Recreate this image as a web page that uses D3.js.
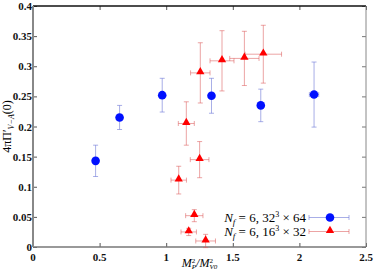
<!DOCTYPE html>
<meta charset="UTF-8">
<head>
<script src="https://cdn.jsdelivr.net/npm/d3@7"></script>
</head>
<style>
body { margin: 0; background: #fff; }
text { font-family: "Liberation Serif", "DejaVu Serif", serif; }
.tick-label { font-size: 11px; font-weight: bold; fill: #111; }
</style>
<body>
<div id="chart"></div>
<script>

// Nf = 6, 32^3 x 64 (blue circles)
var blueX    = [0.47, 0.65, 0.97, 1.34, 1.71, 2.11];
var blueY    = [0.143, 0.215, 0.252, 0.251, 0.235, 0.253];
var blueXErr = [0.01, 0.01, 0.01, 0.01, 0.015, 0.035];
var blueYErr = [0.026, 0.020, 0.028, 0.029, 0.027, 0.054];

// Nf = 6, 16^3 x 32 (red triangles)
var redX    = [1.151, 1.256, 1.419, 1.587, 1.729, 1.251, 1.094, 1.211, 1.169, 1.296];
var redY    = [0.205, 0.289, 0.309, 0.313, 0.320, 0.145, 0.111, 0.052, 0.025, 0.010];
var redXErr = [0.06, 0.073, 0.09, 0.11, 0.137, 0.07, 0.058, 0.065, 0.058, 0.074];
var redYErr = [0.036, 0.05, 0.05, 0.045, 0.048, 0.03, 0.023, 0.01, 0.006, 0.011];

var xTicks = [0, 0.5, 1, 1.5, 2, 2.5];
var yTicks = [0, 0.05, 0.1, 0.15, 0.2, 0.25, 0.3, 0.35, 0.4];

var W = 374, H = 274;
var margin = {top: 6, right: 8, bottom: 27, left: 33},
    width = W - margin.left - margin.right,
    height = H - margin.top - margin.bottom;

var svg = d3.select("#chart").append("svg")
    .attr("width", W).attr("height", H)
  .append("g")
    .attr("transform", "translate(" + margin.left + "," + margin.top + ")");

var x = d3.scaleLinear().domain([0, 2.5]).range([0, width]);
var y = d3.scaleLinear().domain([0, 0.4]).range([height, 0]);

var fmt = function(d) { return d === 0 ? "0" : String(+d.toFixed(2)); };

// axes: ticks point inward
svg.append("g").attr("transform", "translate(0," + height + ")")
  .call(d3.axisTop(x).tickValues(xTicks).tickSize(4).tickFormat(""))
  .call(function(g) { g.select(".domain").remove(); g.selectAll("line").attr("stroke", "#555"); });
svg.append("g")
  .call(d3.axisBottom(x).tickValues(xTicks).tickSize(4).tickFormat(""))
  .call(function(g) { g.select(".domain").remove(); g.selectAll("line").attr("stroke", "#555"); });
svg.append("g")
  .call(d3.axisRight(y).tickValues(yTicks).tickSize(4).tickFormat(""))
  .call(function(g) { g.select(".domain").remove(); g.selectAll("line").attr("stroke", "#555"); });
svg.append("g").attr("transform", "translate(" + width + ",0)")
  .call(d3.axisLeft(y).tickValues(yTicks).tickSize(4).tickFormat(""))
  .call(function(g) { g.select(".domain").remove(); g.selectAll("line").attr("stroke", "#777"); });

// frame
svg.append("line").attr("x1", 0).attr("x2", width).attr("y1", 0).attr("y2", 0)
  .attr("stroke", "#111").attr("stroke-width", 1.4);
svg.append("line").attr("x1", width).attr("x2", width).attr("y1", 0).attr("y2", height)
  .attr("stroke", "#888").attr("stroke-width", 1);
svg.append("line").attr("x1", 0).attr("x2", width).attr("y1", height).attr("y2", height)
  .attr("stroke", "#777").attr("stroke-width", 1.5);
svg.append("line").attr("x1", 0).attr("x2", 0).attr("y1", 0).attr("y2", height)
  .attr("stroke", "#888").attr("stroke-width", 2);

// tick labels
svg.selectAll(".xl").data(xTicks).enter().append("text")
  .attr("class", "tick-label")
  .attr("x", function(d) { return x(d); })
  .attr("y", height + 14)
  .attr("text-anchor", "middle")
  .text(fmt);
svg.selectAll(".yl").data(yTicks).enter().append("text")
  .attr("class", "tick-label")
  .attr("x", -1)
  .attr("y", function(d) { return y(d) + 4; })
  .attr("text-anchor", "end")
  .text(fmt);

// axis titles
var xt = svg.append("text")
  .attr("x", width / 2).attr("y", height + 20)
  .attr("text-anchor", "middle")
  .style("font-size", "12px").style("font-style", "italic");
xt.append("tspan").text("M");
xt.append("tspan").attr("dy", -4).style("font-size", "7px").style("font-style", "normal").text("2");
xt.append("tspan").attr("dx", -3.5).attr("dy", 6).style("font-size", "7px").text("P");
xt.append("tspan").attr("dy", -2).text("/M");
xt.append("tspan").attr("dy", -4).style("font-size", "7px").style("font-style", "normal").text("2");
xt.append("tspan").attr("dx", -3.5).attr("dy", 6).style("font-size", "7px").text("V0");

var yt = svg.append("text")
  .attr("transform", "translate(" + (-22) + "," + (height / 2) + ") rotate(-90)")
  .attr("text-anchor", "middle")
  .style("font-size", "12px");
yt.append("tspan").text("4πΠ′");
yt.append("tspan").attr("dy", 3).style("font-size", "8px").style("font-style", "italic").text("V−A");
yt.append("tspan").attr("dy", -3).text("(0)");

// series
var blue = blueX.map(function(v, i) {
  return {x: v, y: blueY[i], xe: blueXErr[i], ye: blueYErr[i]};
});
var red = redX.map(function(v, i) {
  return {x: v, y: redY[i], xe: redXErr[i], ye: redYErr[i]};
});

function errorBars(data, color, cls) {
  var g = svg.append("g").attr("class", cls)
    .attr("stroke", color).attr("stroke-width", 1).attr("fill", "none");
  data.forEach(function(d) {
    var cx = x(d.x), cy = y(d.y);
    var y0 = y(d.y - d.ye), y1 = y(d.y + d.ye);
    var x0 = x(d.x - d.xe), x1 = x(d.x + d.xe);
    g.append("line").attr("x1", cx).attr("x2", cx).attr("y1", y0).attr("y2", y1);
    g.append("line").attr("x1", cx - 2.5).attr("x2", cx + 2.5).attr("y1", y0).attr("y2", y0);
    g.append("line").attr("x1", cx - 2.5).attr("x2", cx + 2.5).attr("y1", y1).attr("y2", y1);
    g.append("line").attr("x1", x0).attr("x2", x1).attr("y1", cy).attr("y2", cy);
    g.append("line").attr("x1", x0).attr("x2", x0).attr("y1", cy - 2.5).attr("y2", cy + 2.5);
    g.append("line").attr("x1", x1).attr("x2", x1).attr("y1", cy - 2.5).attr("y2", cy + 2.5);
  });
}

errorBars(blue, "rgba(110,120,215,0.6)", "blue-err");
errorBars(red, "rgba(220,90,90,0.55)", "red-err");

svg.selectAll("circle.pt").data(blue).enter().append("circle")
  .attr("class", "pt")
  .attr("cx", function(d) { return x(d.x); })
  .attr("cy", function(d) { return y(d.y); })
  .attr("r", 4.3)
  .attr("fill", "#0010ff");

var tri = d3.symbol().type(d3.symbolTriangle).size(30);
svg.selectAll("path.tri").data(red).enter().append("path")
  .attr("class", "tri")
  .attr("transform", function(d) { return "translate(" + x(d.x) + "," + (y(d.y) - 1) + ")"; })
  .attr("d", tri)
  .attr("fill", "#ff0000");

// legend
var legend = [
  {label: "32", lat: "64", color: "#0010ff", err: "rgba(110,120,215,0.6)", shape: "circle"},
  {label: "16", lat: "32", color: "#ff0000", err: "rgba(220,90,90,0.55)", shape: "tri"}
];
var lg = svg.selectAll(".lg").data(legend).enter().append("g")
  .attr("transform", function(d, i) { return "translate(0," + (217.5 + i * 14 - margin.top) + ")"; });
lg.append("line").attr("x1", 276).attr("x2", 316).attr("y1", 0).attr("y2", 0)
  .attr("stroke", function(d) { return d.err; });
lg.append("line").attr("x1", 276).attr("x2", 276).attr("y1", -2.5).attr("y2", 2.5)
  .attr("stroke", function(d) { return d.err; });
lg.append("line").attr("x1", 316).attr("x2", 316).attr("y1", -2.5).attr("y2", 2.5)
  .attr("stroke", function(d) { return d.err; });
lg.each(function(d) {
  var g = d3.select(this);
  if (d.shape === "circle") {
    g.append("circle").attr("cx", 297).attr("cy", 0).attr("r", 4.3).attr("fill", d.color);
  } else {
    g.append("path").attr("transform", "translate(297,-1)").attr("d", tri).attr("fill", d.color);
  }
  var t = g.append("text").attr("x", 273).attr("y", 4.5).attr("text-anchor", "end")
    .style("font-size", "13px");
  t.append("tspan").style("font-style", "italic").text("N");
  t.append("tspan").attr("dy", 3).style("font-size", "9px").style("font-style", "italic").text("f");
  t.append("tspan").attr("dy", -3).text(" = 6, " + d.label);
  t.append("tspan").attr("dy", -5).style("font-size", "8px").text("3");
  t.append("tspan").attr("dy", 5).text(" × " + d.lat);
});

</script>
</body>
